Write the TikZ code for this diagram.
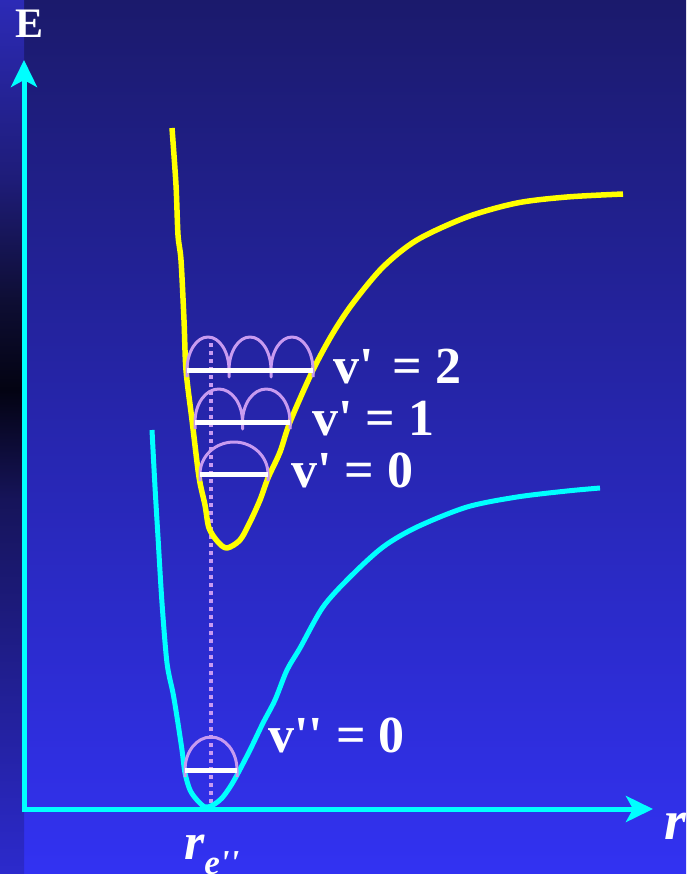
\documentclass[tikz,border=0pt]{standalone}
\usepackage{fontspec}
\newfontfamily\lab{Liberation Serif}
\usetikzlibrary{arrows.meta}
\definecolor{lav}{RGB}{200,155,240}
\definecolor{bgtop}{RGB}{27,26,108}
\definecolor{bgbot}{RGB}{50,50,242}
\definecolor{s1}{RGB}{44,42,182}
\definecolor{s2}{RGB}{30,28,120}
\definecolor{s3}{RGB}{14,14,52}
\definecolor{s4}{RGB}{3,3,18}
\definecolor{s5}{RGB}{22,20,90}
\definecolor{s6}{RGB}{44,42,205}
\definecolor{ycol}{RGB}{255,255,0}
\definecolor{ccol}{RGB}{0,255,255}
\begin{document}
\begin{tikzpicture}[x=1pt,y=-1pt,
  axisline/.style={ccol,line width=5pt,line join=miter,
    {Stealth[length=27pt,width=26pt,inset=7pt]}-{Stealth[length=27pt,width=26pt,inset=7pt]}},
  ycurve/.style={ycol,line width=5.5pt,line join=round},
  ccurve/.style={ccol,line width=5pt,line join=round},
  arcst/.style={lav,line width=3pt,line join=round},
  lvl/.style={white,line width=5pt},
  dots/.style={lav,line width=4pt,dash pattern=on 4pt off 4pt},
  lbl/.style={anchor=base west,inner sep=0pt,text=white,font={\lab\bfseries\fontsize{52pt}{52pt}\selectfont}},
  axlbl/.style={anchor=base west,inner sep=0pt,text=white}]
\useasboundingbox (0,0) rectangle (686,874);
% background
\shade[top color=bgtop,bottom color=bgbot] (23.5,0) rectangle (686,874);
\shade[top color=s1,bottom color=s2] (0,0) rectangle (24,180.5);
\shade[top color=s2,bottom color=s3] (0,180) rectangle (24,300.5);
\shade[top color=s3,bottom color=s4] (0,300) rectangle (24,390.5);
\shade[top color=s4,bottom color=s5] (0,390) rectangle (24,500.5);
\shade[top color=s5,bottom color=s6] (0,500) rectangle (24,874);
% axes
\coordinate (O) at (24,809);
\coordinate (Etip) at (24,60);
\coordinate (rtip) at (653,809);
\draw[axisline] (Etip) -- (O) -- (rtip);
% dotted line
\coordinate (dtop) at (211,343);
\coordinate (dbot) at (211,808);
\draw[dots] (dtop) -- (dbot);
% curves
\draw[ycurve] plot[smooth,tension=0.5] coordinates {(172,128) (176,185) (178,235) (181,260) (184,320) (186,370) (192,420) (199,477) (205,505) (209,528) (218,542) (227,548) (240,540) (250,522) (260,500) (268,478) (280,452) (290,422) (313,370) (333,333) (353,303) (383,267) (417,240) (467,217) (517,203) (567,197) (623,194)};
\draw[ccurve] plot[smooth,tension=0.5] coordinates {(152,430) (155,487) (158,537) (162,603) (167,663) (173,693) (177,717) (182,750) (185,773) (190,790) (197,800) (205,807) (213,805) (222,798) (230,787) (237,775) (250,750) (263,723) (275,700) (287,670) (300,648) (323,607) (350,577) (383,547) (417,527) (467,507) (517,497) (567,491) (600,488)};
% wavefunction arcs
\draw[arcst] (187,377) -- (187,370) arc[start angle=180,end angle=0,x radius=21pt,y radius=33pt] -- (229,377) -- (229,370) arc[start angle=180,end angle=0,x radius=21pt,y radius=33pt] -- (271,377) -- (271,370) arc[start angle=180,end angle=0,x radius=21pt,y radius=33pt] -- (313,377);
\draw[arcst] (195,429) -- (195,422) arc[start angle=180,end angle=0,x radius=23.75pt,y radius=33pt] -- (242.5,429) -- (242.5,422) arc[start angle=180,end angle=0,x radius=23.75pt,y radius=33pt] -- (290,429);
\draw[arcst] (200,481) -- (200,474) arc[start angle=180,end angle=0,x radius=34pt,y radius=32pt] -- (268,481);
\draw[arcst] (185,777) -- (185,770) arc[start angle=180,end angle=0,x radius=26pt,y radius=33pt] -- (237,777);
% levels
\draw[lvl] (187,370) -- (313,370);
\draw[lvl] (195,422) -- (290,422);
\draw[lvl] (200,474) -- (268,474);
\draw[lvl] (185,770) -- (237,770);
% labels
\node[lbl] (l2) at (333,383) {v'\hspace{6pt} = 2};
\node[lbl] (l1) at (312,435) {v' = 1};
\node[lbl] (l0) at (291,487) {v' = 0};
\node[lbl] (g0) at (268,752) {v'' = 0};
\node[axlbl,font={\lab\bfseries\fontsize{42pt}{42pt}\selectfont}] (E) at (15,38) {E};
\node[axlbl,font={\lab\bfseries\itshape\fontsize{56pt}{56pt}\selectfont}] (r) at (664,839) {r};
\node[axlbl,font={\lab\bfseries\itshape\fontsize{52pt}{52pt}\selectfont}] (re) at (184,859) {r\raisebox{-15pt}{\fontsize{35pt}{35pt}\selectfont e''}};
\end{tikzpicture}
\end{document}
